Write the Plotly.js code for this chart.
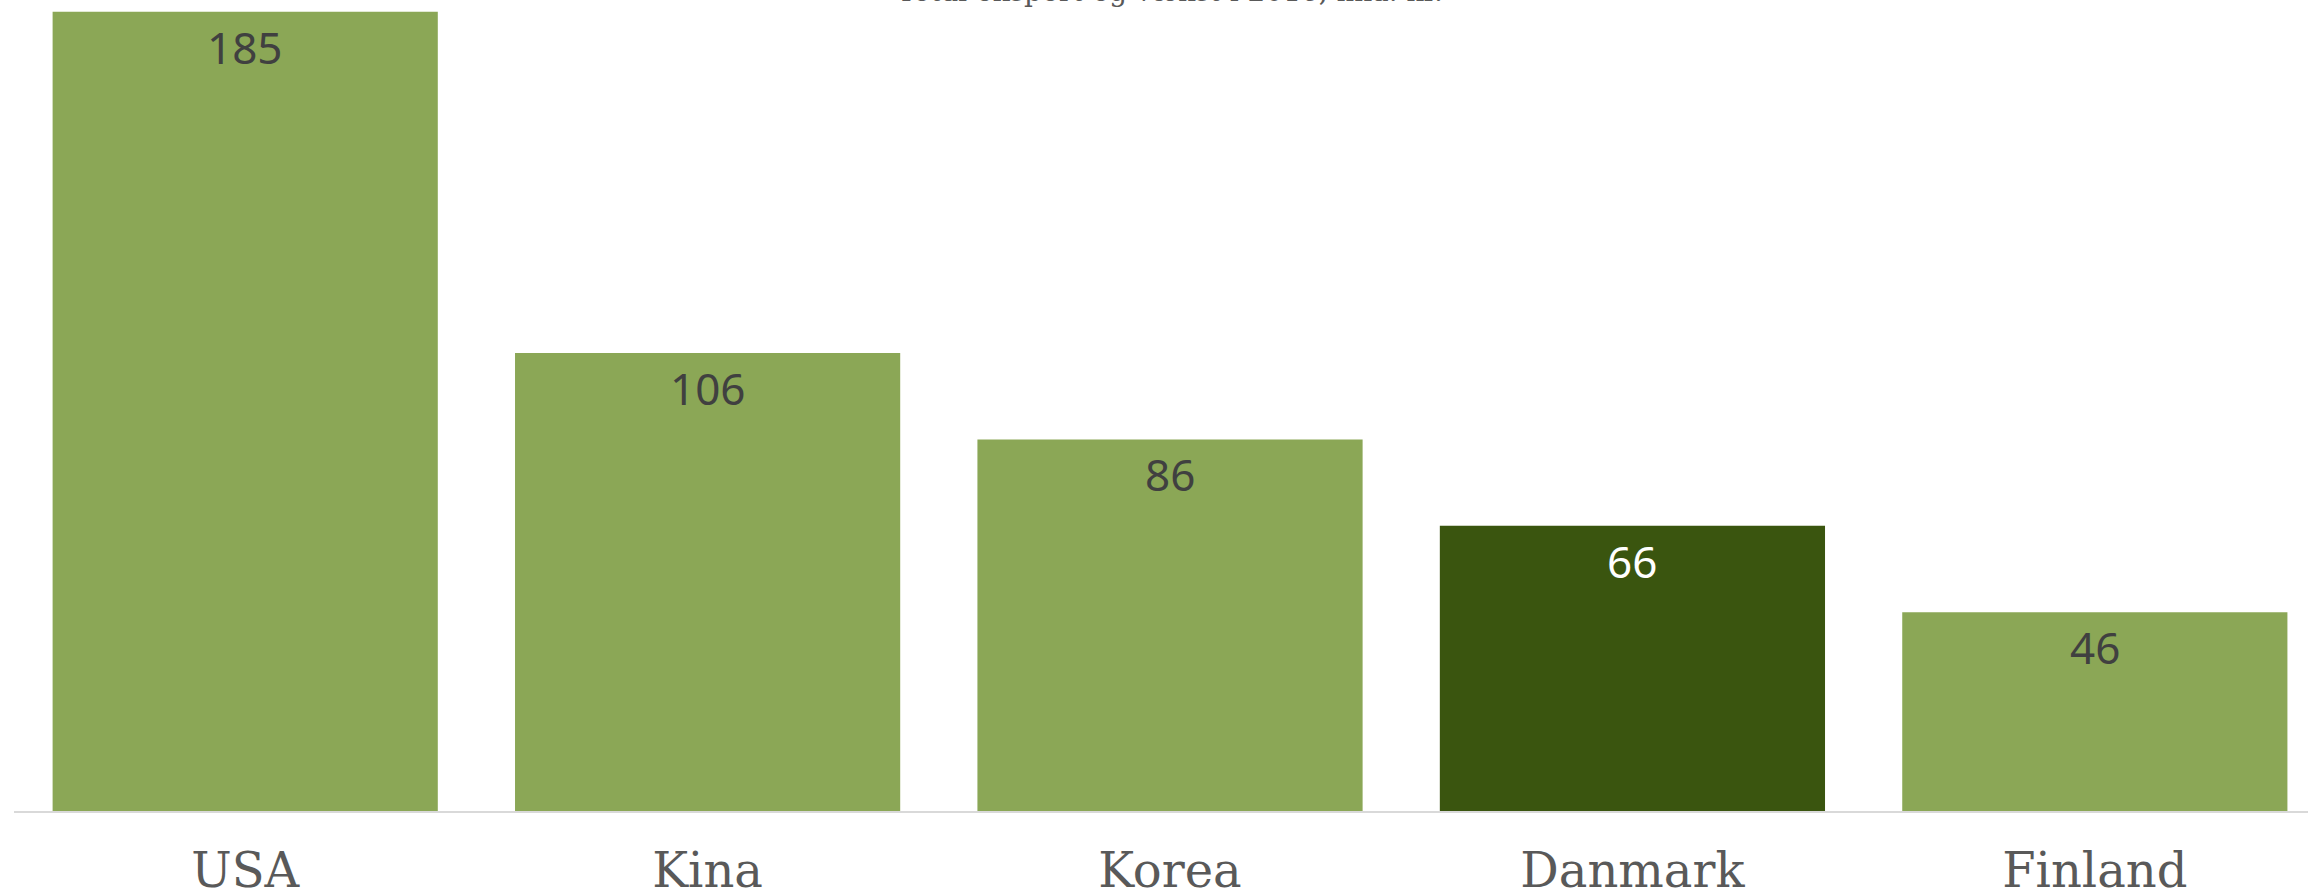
<!DOCTYPE html>
<html>
<head>
<meta charset="utf-8">
<script src="https://cdn.plot.ly/plotly-3.0.1.min.js"></script>
<style>html,body{margin:0;padding:0;background:#fff;}#chart{width:2308px;height:892px;}</style>
</head>
<body>
<div id="chart"></div>
<script>
const categories = ["USA", "Kina", "Korea", "Danmark", "Finland"];
const values = [185, 106, 86, 66, 46];
const highlight = "Danmark";
const titleText = "Total eksport og vækst i 2016, mia. kr.";

const barColors = categories.map(c => c === highlight ? "#3A550F" : "#8BA756");
const labelColors = categories.map(c => c === highlight ? "#FFFFFF" : "#404040");

const trace = {
  type: "bar",
  x: categories,
  y: values,
  marker: {color: barColors},
  hoverinfo: "none"
};

const annotations = categories.map((c, i) => ({
  x: c, y: values[i], xref: "x", yref: "y",
  text: String(values[i]),
  showarrow: false,
  yanchor: "top",
  yshift: -3,
  font: {family: "Noto Sans", size: 44, color: labelColors[i]}
}));

annotations.push({
  xref: "paper", yref: "paper", x: 0.504, y: 1,
  xanchor: "center", yanchor: "bottom", yshift: -10,
  text: titleText, showarrow: false,
  font: {family: "DejaVu Serif", size: 28, color: "#595959"}
});

const layout = {
  width: 2308, height: 892,
  margin: {l: 14, r: 0, t: 0, b: 81},
  paper_bgcolor: "#ffffff", plot_bgcolor: "#ffffff",
  bargap: 0.167,
  showlegend: false,
  xaxis: {
    type: "category",
    range: [-0.5, 4.461],
    showline: true, linecolor: "#D9D9D9", linewidth: 2,
    ticks: "", showgrid: false, zeroline: false,
    automargin: false,
    ticklabelstandoff: 16,
    tickfont: {family: "DejaVu Serif", size: 48, color: "#595959"}
  },
  yaxis: {
    range: [0, 187.7],
    visible: false, showgrid: false, zeroline: false,
    automargin: false
  },
  annotations: annotations
};

Plotly.newPlot("chart", [trace], layout, {displayModeBar: false, staticPlot: true});
</script>
</body>
</html>
